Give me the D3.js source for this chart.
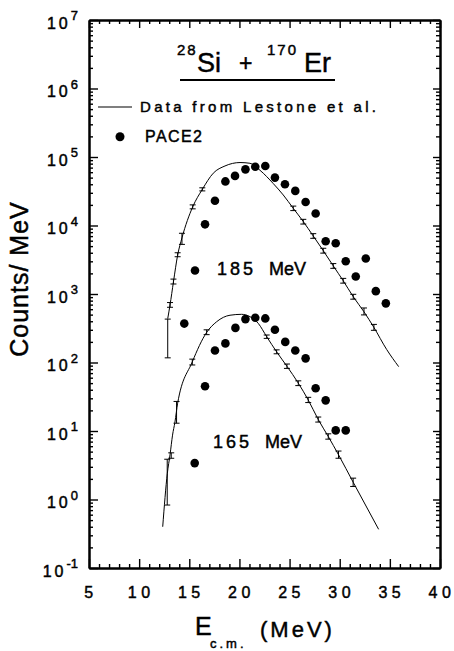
<!DOCTYPE html>
<html>
<head>
<meta charset="utf-8">
<script src="https://cdn.jsdelivr.net/npm/d3@7"></script>
<style>
body { margin: 0; background: #fff; }
svg { display: block; font-family: "Liberation Sans", Arial, Helvetica, sans-serif; }
svg text { fill: #000; stroke: #000; stroke-width: 0.45px; }
.axis path { stroke: #000; stroke-width: 2; }
.axis line { stroke: #000; stroke-width: 1.4; }
</style>
</head>
<body>
<div id="chart"></div>
<script>
// PACE2 calculation (points), E_cm in MeV, counts/MeV
const paceE185 = [14.5, 15.57, 16.57, 17.56, 18.6, 19.56, 20.6, 21.58, 22.58, 23.54, 24.54, 25.57, 26.6, 27.6, 28.6, 29.6, 30.6, 31.6, 32.6, 33.6, 34.6];
const pace185  = [370, 2200, 10400, 23000, 44000, 53000, 66000, 72000, 74000, 50000, 40000, 32000, 22000, 15000, 5900, 5500, 3000, 1800, 3300, 1100, 730];
const paceE165 = [15.54, 16.57, 17.56, 18.6, 19.6, 20.6, 21.58, 22.58, 23.54, 24.57, 25.57, 26.6, 27.6, 28.6, 29.6, 30.6];
const pace165  = [3.4, 45, 150, 190, 320, 430, 450, 440, 300, 200, 150, 115, 42, 28, 10.2, 10.2];

// Data from Lestone et al. (curves)
const lineE185 = [12.85, 13.08, 13.42, 13.84, 14.27, 15.34, 16.3, 17.39, 18.56, 20.06, 21.05, 22.05, 23.37, 24.37, 25.37, 26.37, 27.36, 28.36, 29.36, 30.35, 31.35, 32.42, 33.41, 34.68, 35.88];
const line185  = [437, 692, 1500, 3700, 6600, 18700, 33700, 58000, 74000, 83000, 81000, 64000, 41000, 27900, 17800, 11400, 7030, 4290, 2570, 1560, 912, 550, 325, 155, 87];
const lineE165 = [12.35, 12.81, 13.08, 13.33, 13.57, 13.84, 15.3, 16.73, 17.73, 19.06, 20.22, 21.05, 21.88, 22.72, 23.71, 24.74, 25.87, 26.86, 27.86, 28.86, 29.88, 31.34, 33.88];
const line165  = [0.40, 2.4, 4.5, 8.7, 13.5, 25.5, 102, 275, 394, 490, 505, 467, 372, 238, 143, 88, 50, 28.4, 14.7, 8.3, 4.5, 1.79, 0.367];

// error bars: E, low, high
const errE185  = [12.85, 13.08, 13.42, 13.84, 14.27, 15.34, 16.3, 25.37, 26.37, 27.36, 28.36, 29.36, 30.35, 31.35, 32.42, 33.41];
const errLo185 = [117, 640, 1400, 3500, 5300, 17500, 32000, 16500, 10500, 6500, 3950, 2370, 1440, 840, 495, 295];
const errHi185 = [430, 750, 1650, 4000, 7700, 20000, 35500, 19200, 12300, 7600, 4650, 2780, 1690, 990, 625, 360];
const errE165  = [12.8, 13.2, 13.73, 15.3, 16.73, 22.72, 23.71, 24.74, 25.87, 26.86, 27.86, 28.86, 29.88, 31.34];
const errLo165 = [0.83, 4.0, 13, 92, 255, 225, 134, 82, 46, 26, 13.5, 7.6, 4.0, 1.55];
const errHi165 = [3.87, 4.8, 27, 112, 300, 252, 153, 95, 54, 31, 16, 9.1, 5.1, 2.05];

const xTicks = [5, 10, 15, 20, 25, 30, 35, 40];
const yExponents = [-1, 0, 1, 2, 3, 4, 5, 6, 7];

const W = 454, H = 651;
const svg = d3.select('#chart').append('svg').attr('width', W).attr('height', H);
svg.append('rect').attr('width', W).attr('height', H).attr('fill', '#fff');

const x = d3.scaleLinear().domain([5, 40]).range([89, 440]);
const y = d3.scaleLog().domain([0.1, 1e7]).range([568, 20]);

// minor tick values
const xMinor = d3.range(5, 41, 1).filter(v => v % 5 !== 0);
const yMinor = [];
for (let k = -1; k < 7; k++) for (let m = 2; m <= 9; m++) yMinor.push(m * Math.pow(10, k));
const yMajor = yExponents.map(e => Math.pow(10, e));

function addAxis(axis, tf) {
  const g = svg.append('g').attr('class', 'axis').attr('transform', tf).call(axis);
  g.selectAll('text').remove();
  return g;
}
addAxis(d3.axisBottom(x).tickValues(xTicks).tickSize(-9).tickSizeOuter(0), `translate(0,${568})`);
addAxis(d3.axisBottom(x).tickValues(xMinor).tickSize(-4).tickSizeOuter(0), `translate(0,${568})`);
addAxis(d3.axisTop(x).tickValues(xTicks).tickSize(-8).tickSizeOuter(0), `translate(0,${20})`);
addAxis(d3.axisTop(x).tickValues(xMinor).tickSize(-4).tickSizeOuter(0), `translate(0,${20})`);
addAxis(d3.axisLeft(y).tickValues(yMajor).tickSize(-9).tickSizeOuter(0), `translate(${89},0)`);
addAxis(d3.axisLeft(y).tickValues(yMinor).tickSize(-4).tickSizeOuter(0), `translate(${89},0)`);
addAxis(d3.axisRight(y).tickValues(yMajor).tickSize(-7).tickSizeOuter(0), `translate(${440},0)`);
addAxis(d3.axisRight(y).tickValues(yMinor).tickSize(-4).tickSizeOuter(0), `translate(${440},0)`);

// x tick labels
svg.append('g').selectAll('text').data(xTicks).join('text')
  .attr('x', d => x(d) + 2)
  .attr('y', 598)
  .attr('text-anchor', 'middle')
  .style('font-size', '16px')
  .style('letter-spacing', '4.5px')
  .text(d => d);

// y tick labels 10^n
const yl = svg.append('g').selectAll('text').data(yExponents).join('text')
  .attr('x', 78)
  .attr('y', d => y(Math.pow(10, d)) + 8.5)
  .attr('text-anchor', 'end')
  .style('font-size', '16px');
yl.append('tspan').style('letter-spacing', '3px').text('10');
yl.append('tspan').attr('dy', -8.5).style('font-size', '13px').text(d => d);

// axis titles
svg.append('text')
  .attr('transform', 'translate(28,279) rotate(-90)')
  .attr('text-anchor', 'middle')
  .style('font-size', '25px')
  .style('letter-spacing', '1px')
  .text('Counts/ MeV');
svg.append('text').attr('x', 195).attr('y', 635).style('font-size', '25px').text('E');
svg.append('text').attr('x', 210).attr('y', 648).style('font-size', '13px').style('letter-spacing', '3px').text('c.m.');
svg.append('text').attr('x', 260).attr('y', 637).style('font-size', '22px').style('letter-spacing', '3px').text('(MeV)');

// title
const title = svg.append('g');
title.append('text').attr('x', 177).attr('y', 55).style('font-size', '15px').style('letter-spacing', '2px').text('28');
title.append('text').attr('x', 197).attr('y', 72).style('font-size', '27px').text('Si');
title.append('text').attr('x', 239).attr('y', 71).style('font-size', '23px').text('+');
title.append('text').attr('x', 267).attr('y', 55).style('font-size', '15px').style('letter-spacing', '2px').text('170');
title.append('text').attr('x', 304).attr('y', 72).style('font-size', '27px').text('Er');
title.append('line').attr('x1', 180).attr('x2', 335).attr('y1', 80).attr('y2', 80).attr('stroke', '#000').attr('stroke-width', 2);

// legend
svg.append('line').attr('x1', 98).attr('x2', 132).attr('y1', 107).attr('y2', 107).attr('stroke', '#000').attr('stroke-width', 1.2);
svg.append('text').attr('x', 140).attr('y', 112).style('font-size', '15px').style('letter-spacing', '3.3px').text('Data from Lestone et al.');
svg.append('circle').attr('cx', 120).attr('cy', 136.7).attr('r', 4.5).attr('fill', '#000');
svg.append('text').attr('x', 145).attr('y', 141.7).style('font-size', '16px').style('letter-spacing', '1.4px').text('PACE2');

// energy labels
svg.append('text').attr('x', 217).attr('y', 275).style('font-size', '18px').style('letter-spacing', '3px').text('185');
svg.append('text').attr('x', 269).attr('y', 275).style('font-size', '18px').text('MeV');
svg.append('text').attr('x', 213).attr('y', 448).style('font-size', '18px').style('letter-spacing', '3px').text('165');
svg.append('text').attr('x', 265).attr('y', 448).style('font-size', '18px').text('MeV');

// curves
const line = d3.line().x(d => x(d[0])).y(d => y(d[1])).curve(d3.curveMonotoneX);
[[lineE185, line185], [lineE165, line165]].forEach(([es, vs]) => {
  svg.append('path')
    .datum(es.map((e, i) => [e, vs[i]]))
    .attr('d', line)
    .attr('fill', 'none')
    .attr('stroke', '#000')
    .attr('stroke-width', 1);
});

// error bars
[[errE185, errLo185, errHi185], [errE165, errLo165, errHi165]].forEach(([es, lo, hi]) => {
  const g = svg.append('g').attr('stroke', '#000').attr('stroke-width', 1);
  const eb = es.map((e, i) => ({ e, lo: lo[i], hi: hi[i] }));
  g.selectAll('.v').data(eb).join('line').attr('class', 'v')
    .attr('x1', d => x(d.e)).attr('x2', d => x(d.e))
    .attr('y1', d => y(d.lo)).attr('y2', d => y(d.hi));
  g.selectAll('.lo').data(eb).join('line').attr('class', 'lo')
    .attr('x1', d => x(d.e) - 3).attr('x2', d => x(d.e) + 3)
    .attr('y1', d => y(d.lo)).attr('y2', d => y(d.lo));
  g.selectAll('.hi').data(eb).join('line').attr('class', 'hi')
    .attr('x1', d => x(d.e) - 3).attr('x2', d => x(d.e) + 3)
    .attr('y1', d => y(d.hi)).attr('y2', d => y(d.hi));
});

// PACE2 points
[[paceE185, pace185], [paceE165, pace165]].forEach(([es, vs]) => {
  svg.append('g').selectAll('circle')
    .data(es.map((e, i) => [e, vs[i]]))
    .join('circle')
    .attr('cx', d => x(d[0]))
    .attr('cy', d => y(d[1]))
    .attr('r', 4.3)
    .attr('fill', '#000');
});
</script>
</body>
</html>
